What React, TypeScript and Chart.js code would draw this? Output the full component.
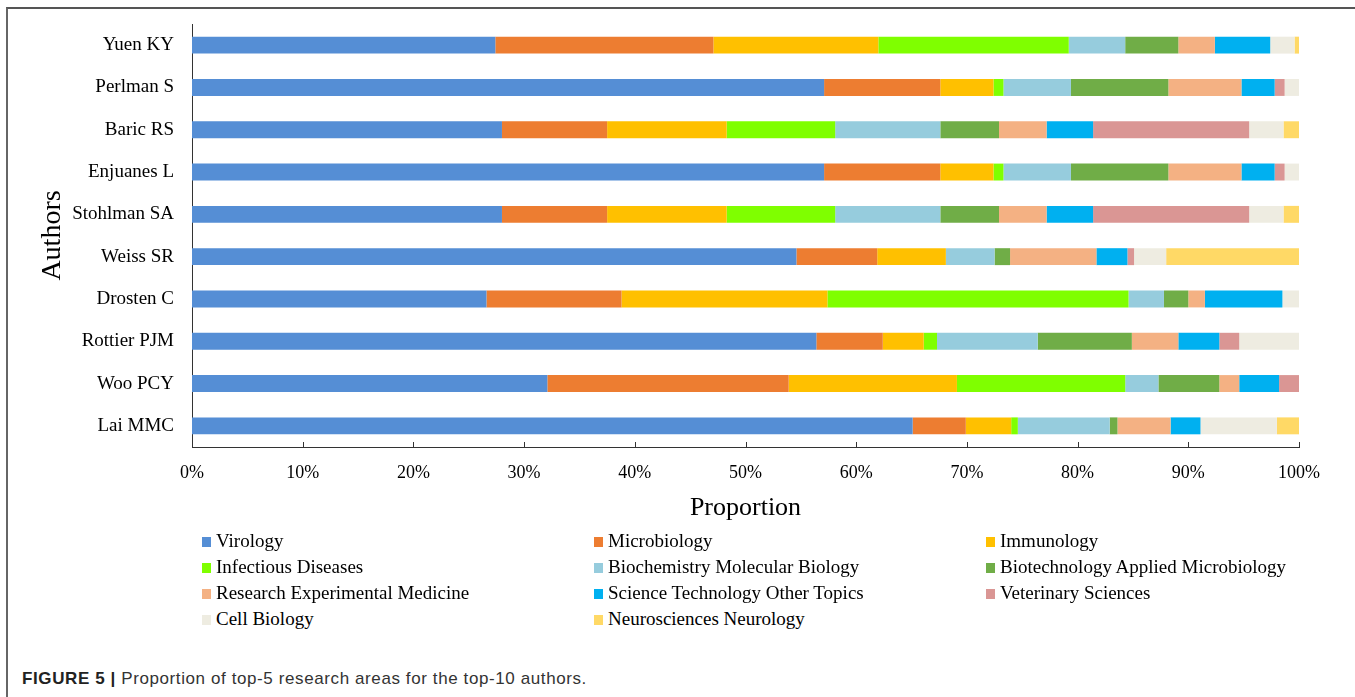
import React, { useEffect, useRef } from 'react';
import { Chart, registerables } from 'chart.js';

Chart.register(...registerables);

// ---------- data ----------
const authors = [
  'Yuen KY', 'Perlman S', 'Baric RS', 'Enjuanes L', 'Stohlman SA',
  'Weiss SR', 'Drosten C', 'Rottier PJM', 'Woo PCY', 'Lai MMC',
];

const xTickLabels = ['0%', '10%', '20%', '30%', '40%', '50%', '60%', '70%', '80%', '90%', '100%'];

const seriesNames = [
  'Virology', 'Microbiology', 'Immunology',
  'Infectious Diseases', 'Biochemistry Molecular Biology', 'Biotechnology Applied Microbiology',
  'Research Experimental Medicine', 'Science Technology Other Topics', 'Veterinary Sciences',
  'Cell Biology', 'Neurosciences Neurology',
];

const seriesColors = [
  '#558ED5', '#ED7D31', '#FFC000',
  '#7FFF00', '#96CCDD', '#70AD47',
  '#F4B183', '#00B0F0', '#DA9694',
  '#EEECE1', '#FFD966',
];

const virology = [27.4, 57.1, 28.0, 57.1, 28.0, 54.6, 26.6, 56.4, 32.1, 65.1];
const microbiology = [19.7, 10.5, 9.5, 10.5, 9.5, 7.3, 12.2, 6.0, 21.8, 4.8];
const immunology = [14.9, 4.8, 10.8, 4.8, 10.8, 6.2, 18.6, 3.7, 15.2, 4.1];
const infectiousDiseases = [17.2, 0.9, 9.8, 0.9, 9.8, 0, 27.2, 1.2, 15.2, 0.6];
const biochemistry = [5.1, 6.1, 9.5, 6.1, 9.5, 4.4, 3.2, 9.1, 3.0, 8.3];
const biotechnology = [4.8, 8.8, 5.3, 8.8, 5.3, 1.4, 2.2, 8.5, 5.5, 0.7];
const researchExpMedicine = [3.3, 6.6, 4.3, 6.6, 4.3, 7.8, 1.5, 4.2, 1.8, 4.8];
const scienceTechnology = [5.0, 3.0, 4.2, 3.0, 4.2, 2.8, 7.0, 3.7, 3.6, 2.7];
const veterinarySciences = [0, 0.9, 14.1, 0.9, 14.1, 0.6, 0, 1.8, 1.8, 0];
const cellBiology = [2.2, 1.3, 3.1, 1.3, 3.1, 2.9, 1.5, 5.4, 0, 6.9];
const neurosciences = [0.4, 0, 1.4, 0, 1.4, 12.0, 0, 0, 0, 2.0];

const seriesValues = [
  virology, microbiology, immunology,
  infectiousDiseases, biochemistry, biotechnology,
  researchExpMedicine, scienceTechnology, veterinarySciences,
  cellBiology, neurosciences,
];

// ---------- layout ----------
const W = 1355;
const CH = 530;
const AREA_BOTTOM = 447;
const AXIS = '#333333';
const SERIF = "'Liberation Serif', 'Times New Roman', serif";
const SANS = "'Liberation Sans', Arial, sans-serif";

const tickMarks = {
  id: 'tickMarks',
  afterDraw(chart: any) {
    const xs = chart.scales.x;
    const ctx = chart.ctx;
    ctx.save();
    ctx.strokeStyle = AXIS;
    ctx.lineWidth = 1;
    xs.ticks.forEach((_t: any, i: number) => {
      const px = Math.round(xs.getPixelForTick(i)) + 0.5;
      ctx.beginPath();
      ctx.moveTo(px, chart.chartArea.bottom);
      ctx.lineTo(px, chart.chartArea.bottom - 5);
      ctx.stroke();
    });
    ctx.restore();
  },
};

export default function App() {
  const ref = useRef<HTMLCanvasElement | null>(null);

  useEffect(() => {
    if (!ref.current) return;
    const chart = new Chart(ref.current, {
      type: 'bar',
      data: {
        labels: authors,
        datasets: seriesNames.map((name, i) => ({
          label: name,
          data: seriesValues[i],
          backgroundColor: seriesColors[i],
          borderWidth: 0,
          barPercentage: 0.4,
          categoryPercentage: 1,
        })),
      },
      options: {
        indexAxis: 'y',
        responsive: false,
        animation: false,
        layout: { padding: { top: 24, right: 56, bottom: 0, left: 0 } },
        plugins: { legend: { display: false }, tooltip: { enabled: false } },
        scales: {
          x: {
            stacked: true,
            min: 0,
            max: 100,
            ticks: {
              stepSize: 10,
              autoSkip: false,
              maxRotation: 0,
              callback: (_v: any, i: number) => xTickLabels[i],
              color: '#000',
              font: { family: SERIF, size: 18 },
              padding: 15.8,
            },
            grid: { display: false, drawTicks: false },
            border: { display: true, color: AXIS, width: 1 },
            title: {
              display: true,
              text: 'Proportion',
              color: '#000',
              font: { family: SERIF, size: 26 },
              padding: { top: 0, bottom: 6.4 },
            },
            afterFit: (s: any) => {
              s.height = CH - AREA_BOTTOM;
              s.paddingLeft = 0;
              s.paddingRight = 0;
            },
          },
          y: {
            stacked: true,
            ticks: {
              color: '#000',
              font: { family: SERIF, size: 19 },
              padding: 18,
            },
            grid: { display: false, drawTicks: false },
            border: { display: true, color: AXIS, width: 1 },
            title: {
              display: true,
              text: 'Authors',
              color: '#000',
              font: { family: SERIF, size: 28 },
              padding: { top: 35.7, bottom: 0 },
            },
            afterFit: (s: any) => {
              s.width = 192;
              s.paddingTop = 0;
              s.paddingBottom = 0;
            },
          },
        },
      } as any,
      plugins: [tickMarks],
    });
    return () => chart.destroy();
  }, []);

  const colLeft = [202, 594, 986];

  return (
    <div style={{ position: 'absolute', left: 0, top: 0, width: W, height: 697, background: '#fff', overflow: 'hidden' }}>
      <div style={{ position: 'absolute', left: 6, top: 7, right: 0, bottom: 0, borderTop: '2px solid #555', borderLeft: '2px solid #666' }} />
      <canvas ref={ref} width={W} height={CH} style={{ position: 'absolute', left: 0, top: 0, width: W, height: CH }} />
      {seriesNames.map((name, i) => (
        <div
          key={name}
          style={{
            position: 'absolute',
            left: colLeft[i % 3],
            top: 528 + Math.floor(i / 3) * 26,
            height: 26,
            whiteSpace: 'nowrap',
          }}
        >
          <span style={{ position: 'absolute', left: 0, top: 8.6, width: 9, height: 10, background: seriesColors[i] }} />
          <span style={{ position: 'absolute', left: 14, top: 0, fontFamily: SERIF, fontSize: 19, lineHeight: '26px', color: '#000' }}>{name}</span>
        </div>
      ))}
      <div style={{ position: 'absolute', left: 22, top: 669, fontFamily: SANS, fontSize: 17, lineHeight: '20px', letterSpacing: '0.6px', color: '#333', whiteSpace: 'nowrap' }}>
        <b style={{ color: '#222' }}>FIGURE 5 |</b> Proportion of top-5 research areas for the top-10 authors.
      </div>
    </div>
  );
}
